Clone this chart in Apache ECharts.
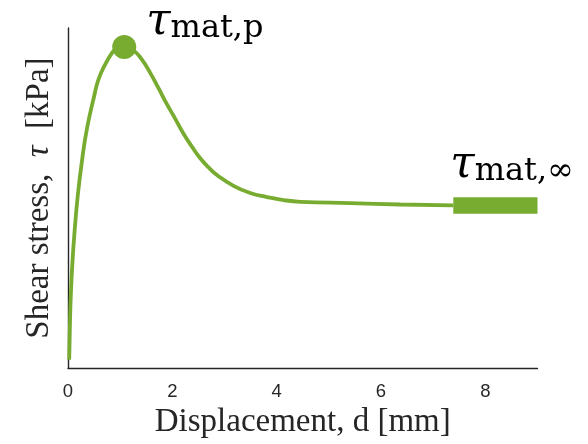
<!DOCTYPE html>
<html><head><meta charset="utf-8">
<script src="https://cdn.jsdelivr.net/npm/echarts@6/dist/echarts.min.js"></script>
<style>html,body{margin:0;padding:0;background:#fff}#c{width:588px;height:444px}</style>
</head><body><div id="c"></div>
<script>
// displacement d [mm]
const curveX = [0.023, 0.036, 0.055, 0.087, 0.132, 0.189, 0.266, 0.362, 0.502, 0.585, 0.726, 0.841, 0.905, 1.078, 1.256, 1.417, 1.576, 1.735, 1.896, 2.056, 2.215, 2.376, 2.535, 2.694, 2.855, 3.174, 3.494, 3.814, 4.132, 4.453, 5.41, 6.37, 7.386];
// shear stress (normalised, no units shown)
const curveY = [0.025, 0.122, 0.219, 0.316, 0.413, 0.510, 0.607, 0.703, 0.800, 0.849, 0.897, 0.926, 0.936, 0.944, 0.934, 0.907, 0.868, 0.823, 0.776, 0.733, 0.689, 0.651, 0.617, 0.590, 0.568, 0.536, 0.515, 0.503, 0.494, 0.489, 0.485, 0.481, 0.4784];
const peakPoint = [1.078, 0.944];
const residualBarX = [7.386, 9];
const residualBarY = [0.4784, 0.4784];
const xTickValues = [0, 2, 4, 6, 8];
const xMin = 0, xMax = 9, xStep = 2;
const yMin = 0, yMax = 1;
const peakLabelSub = 'mat,p';
const residualLabelSub = 'mat,∞';
const labelSymbol = 'τ';
const xTitle = 'Displacement, d [mm]';
const yTitle = 'Shear stress,\u2002{i|τ}\u2002[kPa]';

const GREEN = '#77ac30';
const INK = '#262626';

const richLabel = {
  t: { fontFamily: 'DejaVu Serif', fontStyle: 'italic', fontSize: 44, lineHeight: 44, color: '#000', opacity: 1 },
  s: { fontFamily: 'DejaVu Serif', fontSize: 32, lineHeight: 21, verticalAlign: 'bottom', color: '#000', opacity: 1 }
};

const chart = echarts.init(document.getElementById('c'), null, { renderer: 'canvas' });
chart.setOption({
  animation: false,
  backgroundColor: '#fff',
  grid: { left: 68, right: 50.5, top: 28, bottom: 71.5, containLabel: false },
  xAxis: {
    type: 'value', min: xMin, max: xMax, interval: xStep,
    name: xTitle, nameLocation: 'middle', nameGap: 32,
    nameTextStyle: { fontFamily: 'Liberation Serif', fontSize: 33, color: INK },
    axisLine: { show: true, lineStyle: { color: INK, width: 1.4 } },
    axisTick: { show: false },
    splitLine: { show: false },
    axisLabel: {
      showMaxLabel: false, margin: 14,
      fontFamily: 'Liberation Sans', fontSize: 18.5, color: INK,
      formatter: v => xTickValues.indexOf(v) >= 0 ? String(v) : ''
    }
  },
  yAxis: {
    type: 'value', min: yMin, max: yMax,
    name: yTitle, nameLocation: 'middle', nameGap: 12.5,
    nameTextStyle: {
      fontFamily: 'Liberation Serif', fontSize: 33, color: INK,
      rich: { i: { fontFamily: 'Liberation Serif', fontStyle: 'italic', fontSize: 33, color: INK } }
    },
    axisLine: { show: true, onZero: false, lineStyle: { color: INK, width: 1.4 } },
    axisTick: { show: false },
    splitLine: { show: false },
    axisLabel: { show: false }
  },
  series: [
    {
      type: 'line', data: curveX.map((x, i) => [x, curveY[i]]),
      smooth: 0.5, symbol: 'none',
      lineStyle: { color: GREEN, width: 3.8 }, z: 2
    },
    {
      type: 'line', data: residualBarX.map((x, i) => [x, residualBarY[i]]),
      symbol: 'none', lineStyle: { color: GREEN, width: 16.5, cap: 'butt' }, z: 3
    },
    {
      type: 'scatter', data: [peakPoint], symbol: 'circle', symbolSize: 24,
      itemStyle: { color: GREEN, opacity: 1 }, z: 4
    },
    {
      type: 'scatter', symbolSize: 1, itemStyle: { color: 'rgba(0,0,0,0)' }, z: 5,
      data: [
        { value: peakPoint, label: { show: true, position: 'right', distance: 0, offset: [21.5, -24.5], color: '#000', opacity: 1,
            formatter: '{t|' + labelSymbol + '}{s|' + peakLabelSub + '}', rich: richLabel } },
        { value: [residualBarX[0], residualBarY[0]], label: { show: true, position: 'right', distance: 0, offset: [-3.5, -39.5], color: '#000', opacity: 1,
            formatter: '{t|' + labelSymbol + '}{s|' + residualLabelSub + '}', rich: richLabel } }
      ]
    }
  ]
});
</script></body></html>
